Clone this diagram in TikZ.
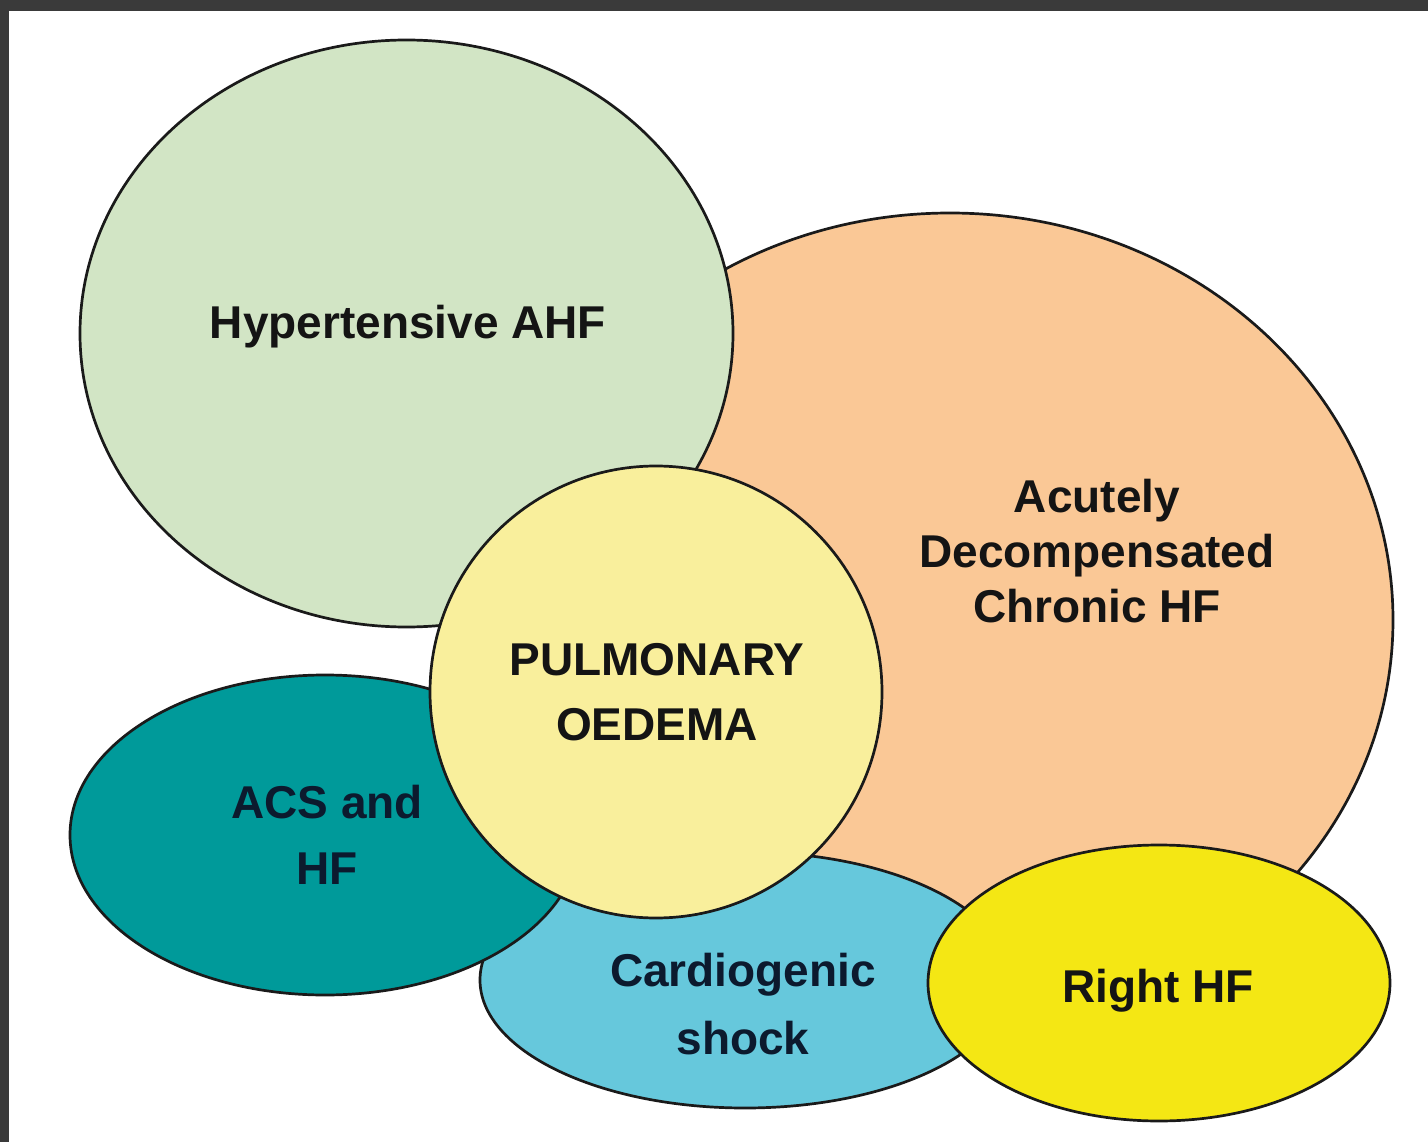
\documentclass[tikz,border=0pt]{standalone}
\usepackage{fontspec}
\setmainfont{Liberation Sans}
\usetikzlibrary{shapes.geometric}
\definecolor{framec}{HTML}{3A3A3A}
\definecolor{outlinec}{HTML}{1A1A1A}
\definecolor{txtc}{HTML}{141414}
\definecolor{navytxt}{HTML}{0C1A2E}
\definecolor{greenc}{HTML}{D2E5C5}
\definecolor{orangec}{HTML}{FAC896}
\definecolor{paleyellowc}{HTML}{F9EF9C}
\definecolor{tealc}{HTML}{009A9A}
\definecolor{bluec}{HTML}{66C8DC}
\definecolor{yellowc}{HTML}{F4E714}
\begin{document}
\begin{tikzpicture}[x=1pt,y=-1pt,
  blob/.style={ellipse, draw=outlinec, line width=2.7pt, inner sep=0pt, outer sep=0pt},
  lbl/.style={anchor=base, font=\bfseries\fontsize{46}{46}\selectfont, text=txtc, inner sep=0pt}]
\useasboundingbox (0,0) rectangle (1428,1142);
\fill[framec] (0,0) rectangle (1428,1142);
\fill[white] (9,11) rectangle (1428,1142);
% shapes, back to front
\node[blob, fill=orangec, minimum width=886pt, minimum height=814pt] (adhf) at (950,620) {};
\node[blob, fill=greenc, minimum width=653pt, minimum height=587pt] (hyp) at (406.5,333.5) {};
\node[blob, fill=bluec, minimum width=530pt, minimum height=256pt] (cs) at (745,980) {};
\node[blob, fill=tealc, minimum width=510pt, minimum height=320pt] (acs) at (325,835) {};
\node[blob, fill=paleyellowc, minimum width=452pt, minimum height=452pt] (po) at (656,692) {};
\node[blob, fill=yellowc, minimum width=462pt, minimum height=276pt] (rhf) at (1159,983) {};
% labels
\node[lbl] (hyptxt) at (408,338) {Hypertensive AHF};
\node[lbl] (adhf1) at (1097,512) {Acutely};
\node[lbl] (adhf2) at (1097,567) {Decompensated};
\node[lbl] (adhf3) at (1097,622) {Chronic HF};
\node[lbl] (po1) at (657,675) {PULMONARY};
\node[lbl] (po2) at (657,740) {OEDEMA};
\node[lbl, text=navytxt] (acs1) at (327,818) {ACS and};
\node[lbl, text=navytxt] (acs2) at (327,884) {HF};
\node[lbl, text=navytxt] (cs1) at (743,986) {Cardiogenic};
\node[lbl, text=navytxt] (cs2) at (743,1054) {shock};
\node[lbl] (rhftxt) at (1158,1002) {Right HF};
\end{tikzpicture}
\end{document}
